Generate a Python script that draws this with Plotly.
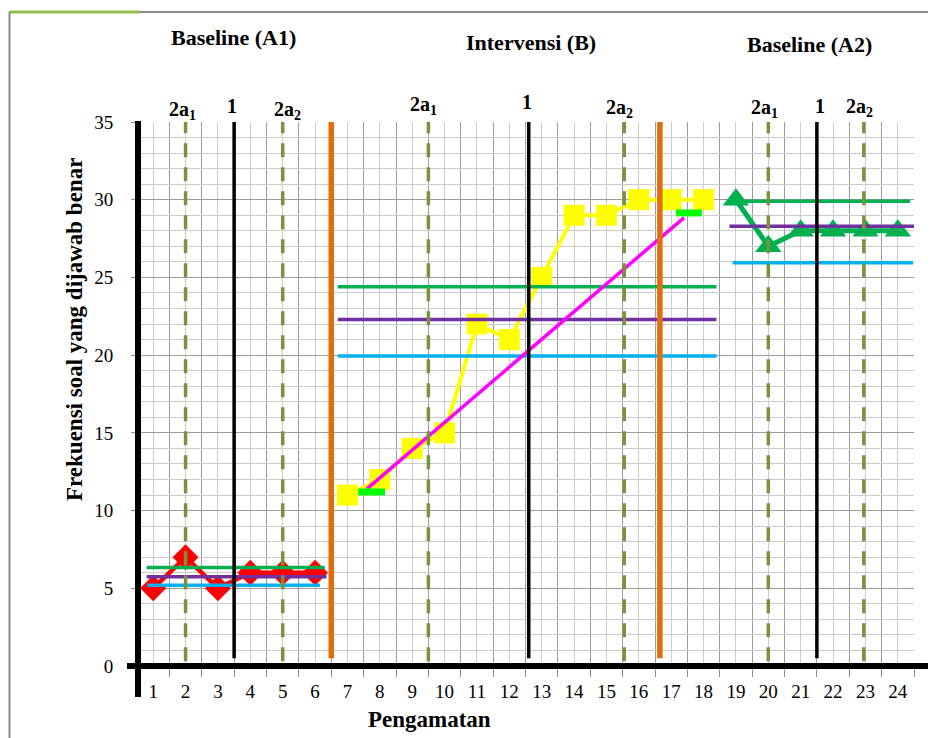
import plotly.graph_objects as go

# ---------------- data ----------------
sessions_a1 = [1, 2, 3, 4, 5, 6]
values_a1 = [5, 7, 5, 6, 6, 6]
sessions_b = [7, 8, 9, 10, 11, 12, 13, 14, 15, 16, 17, 18]
values_b = [11, 12, 14, 15, 22, 21, 25, 29, 29, 30, 30, 30]
sessions_a2 = [19, 20, 21, 22, 23, 24]
values_a2 = [30, 27, 28, 28, 28, 28]

x_tick_values = list(range(1, 25))
x_tick_labels = [str(v) for v in x_tick_values]
y_tick_values = [0, 5, 10, 15, 20, 25, 30, 35]
category_bounds = [v + 0.5 for v in range(0, 25)]

# stability envelope (upper / mean / lower) per phase
upper_level = [6.33, 24.4, 29.9]
upper_x0 = [0.8, 6.7, 19.2]
upper_x1 = [6.3, 18.4, 24.38]
mean_level = [5.75, 22.3, 28.3]
mean_x0 = [0.8, 6.7, 18.8]
mean_x1 = [6.35, 18.4, 24.52]
lower_level = [5.2, 19.95, 25.95]
lower_x0 = [0.82, 6.7, 18.9]
lower_x1 = [6.15, 18.4, 24.47]

# split-middle trend for phase B
trend_x = [7.6, 17.4]
trend_y = [11.4, 28.85]
median_x0 = [7.33, 17.15]
median_x1 = [8.16, 17.95]
median_y = [11.2, 29.15]

# reference lines
ref_2a1_x = [2.0, 9.5, 20.0]
ref_mid_x = [3.5, 12.6, 21.5]
ref_2a2_x = [5.0, 15.55, 22.95]
phase_change_x = [6.5, 16.65]

phase_titles = ["Baseline (A1)", "Intervensi (B)", "Baseline (A2)"]
phase_title_x = [3.47, 12.67, 21.26]
phase_title_py = [37, 42, 45]

# ---------------- figure ----------------
OFF = 8                      # default page body margin
W, H = 936 - OFF, 738 - OFF
L, R, T, B = 137 - OFF, 22, 122 - OFF, 72
PW, PH = W - L - R, H - T - B


def px(xp):
    return (xp - OFF - L) / PW


def py(yp):
    return (H - B - (yp - OFF)) / PH


SERIF = "Liberation Serif, 'Times New Roman', Times, serif"
fig = go.Figure()

fig.add_trace(go.Scatter(x=sessions_a1, y=values_a1, mode="lines+markers",
                         line=dict(color="#FF0000", width=4.5),
                         marker=dict(symbol="diamond", size=20, color="#FF0000"),
                         showlegend=False))
fig.add_trace(go.Scatter(x=sessions_b, y=values_b, mode="lines+markers",
                         line=dict(color="#FFFF00", width=4),
                         marker=dict(symbol="square", size=21, color="#FFFF00"),
                         showlegend=False))
fig.add_trace(go.Scatter(x=sessions_a2, y=values_a2, mode="lines+markers",
                         line=dict(color="#00B050", width=5),
                         marker=dict(symbol="triangle-up", size=23, color="#00B050"),
                         showlegend=False))

for lv, x0s, x1s, col in [(upper_level, upper_x0, upper_x1, "#00B050"),
                          (mean_level, mean_x0, mean_x1, "#7030A0"),
                          (lower_level, lower_x0, lower_x1, "#00B0F0")]:
    for v, a, b in zip(lv, x0s, x1s):
        fig.add_trace(go.Scatter(x=[a, b], y=[v, v], mode="lines",
                                 line=dict(color=col, width=3.5),
                                 showlegend=False, hoverinfo="skip"))

fig.add_trace(go.Scatter(x=trend_x, y=trend_y, mode="lines",
                         line=dict(color="#FF00FF", width=3.5), showlegend=False))
for a, b, v in zip(median_x0, median_x1, median_y):
    fig.add_trace(go.Scatter(x=[a, b], y=[v, v], mode="lines",
                             line=dict(color="#00FF00", width=7), showlegend=False))

shapes = []
for xv in ref_2a1_x + ref_2a2_x:
    shapes.append(dict(type="line", xref="x", yref="y", x0=xv, x1=xv, y0=0.3, y1=35,
                       line=dict(color="#77933C", width=3.5, dash="14px,10px")))
for xv in ref_mid_x:
    shapes.append(dict(type="line", xref="x", yref="y", x0=xv, x1=xv, y0=0.5, y1=35,
                       line=dict(color="#000000", width=3.5)))
for xv in phase_change_x:
    shapes.append(dict(type="line", xref="x", yref="y", x0=xv, x1=xv, y0=0.5, y1=35,
                       line=dict(color="#E46C0A", width=5.5)))

# heavy axes
shapes.append(dict(type="line", xref="paper", yref="paper", x0=px(138), x1=px(138),
                   y0=py(121), y1=py(697), line=dict(color="black", width=6)))
shapes.append(dict(type="line", xref="paper", yref="paper", x0=px(127), x1=px(940),
                   y0=py(666), y1=py(666), line=dict(color="black", width=6)))
# outer frame
shapes.append(dict(type="line", xref="paper", yref="paper", x0=px(9), x1=px(940),
                   y0=py(12), y1=py(12), line=dict(color="#8A8A8A", width=2)))
shapes.append(dict(type="line", xref="paper", yref="paper", x0=px(9.5), x1=px(9.5),
                   y0=py(12), y1=py(745), line=dict(color="#8A8A8A", width=2)))
shapes.append(dict(type="line", xref="paper", yref="paper", x0=px(10), x1=px(140),
                   y0=py(12), y1=py(12), line=dict(color="#92C050", width=3)))

annotations = []
for t, xv, yp in zip(phase_titles, phase_title_x, phase_title_py):
    annotations.append(dict(text="<b>%s</b>" % t, xref="x", yref="paper", x=xv, y=py(yp),
                            showarrow=False, xanchor="center", yanchor="middle",
                            font=dict(family=SERIF, size=22, color="black")))

label_specs = [
    ("2a<sub>1</sub>", 1.89, 110), ("1", 3.43, 106), ("2a<sub>2</sub>", 5.16, 111),
    ("2a<sub>1</sub>", 9.36, 105), ("1", 12.55, 102), ("2a<sub>2</sub>", 15.39, 109),
    ("2a<sub>1</sub>", 19.87, 109), ("1", 21.6, 106), ("2a<sub>2</sub>", 22.83, 107),
]
for t, xv, yp in label_specs:
    annotations.append(dict(text="<b>%s</b>" % t, xref="x", yref="paper", x=xv, y=py(yp),
                            showarrow=False, xanchor="center", yanchor="middle",
                            font=dict(family=SERIF, size=20, color="black")))

annotations.append(dict(text="<b>Frekuensi soal yang dijawab benar</b>", xref="paper", yref="paper",
                        x=px(74), y=py(330), textangle=-90, showarrow=False,
                        xanchor="center", yanchor="middle",
                        font=dict(family=SERIF, size=23, color="black")))
annotations.append(dict(text="<b>Pengamatan</b>", xref="paper", yref="paper",
                        x=px(429), y=py(719), showarrow=False,
                        xanchor="center", yanchor="middle",
                        font=dict(family=SERIF, size=23, color="black")))

fig.update_layout(
    width=W, height=H,
    margin=dict(l=L, r=R, t=T, b=B, pad=0),
    plot_bgcolor="white", paper_bgcolor="white",
    font=dict(family=SERIF),
    shapes=shapes, annotations=annotations, showlegend=False,
    xaxis=dict(range=[0.5, 24.5], tickmode="array", tickvals=x_tick_values,
               ticktext=x_tick_labels, showgrid=True, gridcolor="#CCCCCC", gridwidth=1,
               ticks="", zeroline=False, showline=False, ticklabelstandoff=12,
               tickfont=dict(family=SERIF, size=19, color="black"),
               minor=dict(tickmode="array", tickvals=category_bounds, showgrid=True,
                          gridcolor="#9C9C9C", gridwidth=1, ticks="outside",
                          ticklen=10, tickcolor="#8C8C8C", tickwidth=1)),
    yaxis=dict(range=[0, 35], tickmode="array", tickvals=y_tick_values,
               showgrid=True, gridcolor="#9C9C9C", gridwidth=1,
               ticks="outside", ticklen=5, tickcolor="#8C8C8C",
               zeroline=False, showline=False, ticklabelstandoff=14,
               tickfont=dict(family=SERIF, size=19, color="black"),
               minor=dict(dtick=1, showgrid=True, gridcolor="#CCCCCC", gridwidth=1)),
)

fig.write_html("out.html")
